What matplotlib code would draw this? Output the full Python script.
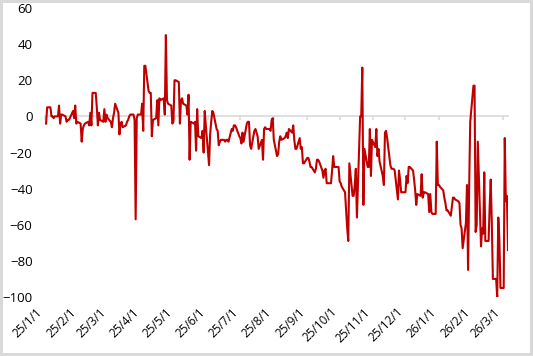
import pandas as pd
import matplotlib.pyplot as plt

# valores diários (dias úteis), um bloco por mês
jan25 = [-4, 5, 5, 0, 0, -1, 0, 0, 6, -4, 1, 1, 0, -3, -2, -2, -1, 3, -1, 6, -4, -3]
fev25 = [-4, -14, -7, -5, -4, -3, -5, 2, -5, 13, 13, 5, -5, 2, -2, -3, 4, -3, 1, -1]
mar25 = [-3, -6, -1, 2, 7, 2, -10, -4, -3, -6, -5, -3, -2, 0, 1, 1, -2, -57, -1, 1, 1]
abr25 = [7, -8, 28, 28, 14, 13, 13, -11, -2, -1, 9, -5, 10, 9, 10, 1, 45, 9, 7, 6, -4, -3]
mai25 = [20, 20, 19, -4, 9, 10, 7, 6, 1, 12, -24, -3, -4, -3, -19, 4, -11, -12, -8, -20, 3, -5]
jun25 = [-27, -10, -3, 3, 2, -7, -8, -16, -14, -13, -13, -14, -13, -13, -14, -7, -8, -5, -5, -6, -11]
jul25 = [-12, -15, -9, -14, -4, -3, -3, -16, -18, -8, -7, -9, -11, -18, -13, -24, -7, -6, -7, -7, -8, -2, -1]
ago25 = [-13, -22, -21, -14, -11, -13, -12, -11, -9, -12, -7, -9, -5, -13, -18, -18, -12, -18, -17, -26, -26]
set25 = [-23, -23, -25, -28, -28, -31, -29, -24, -24, -25, -30, -34, -30, -29, -37, -37, -37, -30, -22, -28, -28, -28]
out25 = [-36, -37, -39, -42, -52, -62, -69, -26, -44, -44, -38, -29, -56, 0, 0, 27, -49, -18, -28, -28, -7, -33, -13]
nov25 = [-17, -7, -22, -18, -25, -33, -38, -9, -8, -12, -27, -29, -29, -29, -30, -46, -30, -35, -42, -42]
dez25 = [-42, -33, -37, -28, -28, -30, -35, -41, -49, -43, -44, -32, -45, -42, -42, -43, -53, -43, -53, -54, -54, -14, -38]
jan26 = [-38, -39, -41, -45, -48, -52, -52, -55, -50, -45, -45, -46, -47, -48, -60, -62, -73, -59, -38, -85, -40, -3]
fev26 = [17, 17, -64, -60, -14, -72, -62, -65, -31, -69, -69, -50, -35, -59, -90, -90, -100, -56, -68, -95]
mar26 = [-95, -12, -47, -44, -74]

inicios = ["2025-01-02", "2025-02-01", "2025-03-01", "2025-04-01", "2025-05-01", "2025-06-01",
           "2025-07-01", "2025-08-01", "2025-09-01", "2025-10-01", "2025-11-01", "2025-12-01",
           "2026-01-01", "2026-02-01", "2026-03-01"]
blocos = [jan25, fev25, mar25, abr25, mai25, jun25, jul25, ago25, set25, out25, nov25, dez25,
          jan26, fev26, mar26]

datas, valores = [], []
for inicio, vals in zip(inicios, blocos):
    ini = pd.Timestamp(inicio)
    dias = pd.bdate_range(ini, ini + pd.offsets.MonthEnd(0))
    for d, v in zip(dias, vals):
        datas.append(d)
        valores.append(v)

plt.rcParams['font.family'] = ['Open Sans', 'DejaVu Sans']

fig = plt.figure(figsize=(5.33, 3.56), dpi=100)
fig.patch.set_edgecolor('#d9d9d9')
fig.patch.set_linewidth(3)
ax = fig.add_axes([45 / 533, 59 / 356, 463 / 533, 289 / 356])

ax.plot(datas, valores, color='#c00000', linewidth=1.5, zorder=3)

ax.set_ylim(-100, 60)
ax.set_yticks(range(-100, 61, 20))
ax.set_xlim(pd.Timestamp("2025-01-01"), pd.Timestamp("2026-03-06"))

# eixo x cruzando no zero, rótulos embaixo
ticks = pd.date_range("2025-01-01", "2026-03-01", freq="MS")
rotulos = [f"{t.year % 100}/{t.month}/1" for t in ticks]

for s in ['top', 'right', 'left']:
    ax.spines[s].set_visible(False)
ax.spines['bottom'].set_position(('data', 0))
ax.spines['bottom'].set_color('#d9d9d9')
ax.spines['bottom'].set_linewidth(1.2)
ax.set_xticks(ticks)
ax.tick_params(axis='x', length=3, width=1.1, color='#d9d9d9', labelbottom=False)
ax.tick_params(axis='y', length=0, pad=9, labelsize=9.5, labelcolor='#000000')

sec = ax.secondary_xaxis(0)
sec.set_xticks(ticks)
sec.set_xticklabels(rotulos, rotation=45, ha='right', fontsize=8.5)
sec.tick_params(length=0, pad=6)
sec.spines['bottom'].set_visible(False)

fig.savefig("out.png", dpi=100, edgecolor=fig.get_edgecolor())
